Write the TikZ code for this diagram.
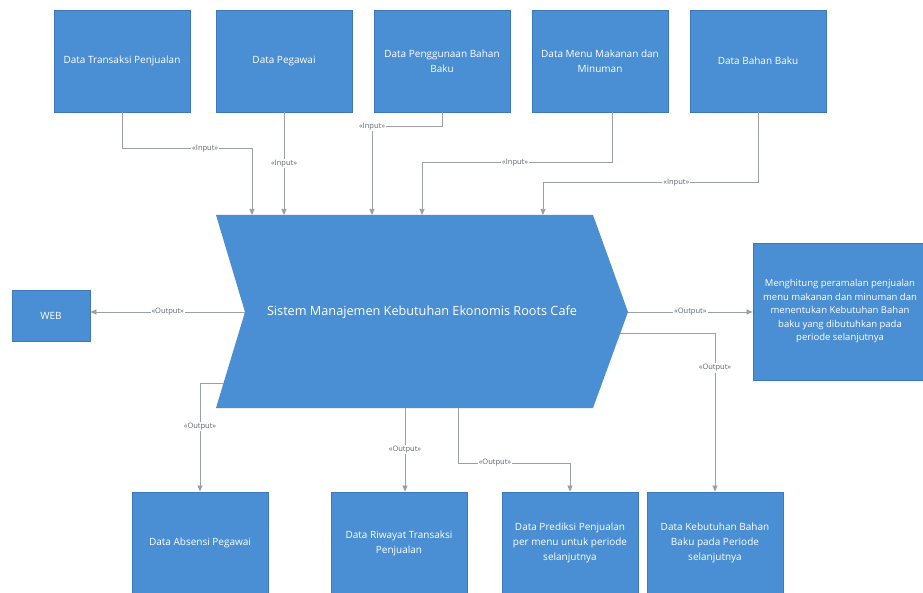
\documentclass[tikz,border=0pt]{standalone}
\usepackage{fontspec}
\setmainfont{Open Sans}
\usetikzlibrary{arrows.meta}
\definecolor{boxfill}{RGB}{74,142,211}
\definecolor{boxline}{RGB}{60,120,188}
\definecolor{wirecol}{RGB}{155,160,168}
\definecolor{wiretext}{RGB}{95,102,112}
\begin{document}
\begin{tikzpicture}[x=1pt,y=-1pt,
  box/.style={draw=boxline, line width=0.8pt, fill=boxfill, text=white, align=center,
    minimum width=136pt, minimum height=102pt, inner sep=4pt,
    font=\fontsize{10}{15}\selectfont},
  wire/.style={draw=wirecol, line width=0.7pt, -{Triangle[length=6pt,width=5pt]}},
  lbl/.style={fill=white, inner sep=1pt, text=wiretext, font=\fontsize{7.5}{8}\selectfont}]
\useasboundingbox (0,0) rectangle (923,593);
\fill[white] (0,0) rectangle (923,593);

% source data stores
\node[box] (b1) at (122,61) {Data Transaksi Penjualan};
\node[box] (b2) at (284,61) {Data Pegawai};
\node[box] (b3) at (442,61) {Data Penggunaan Bahan\\Baku};
\node[box] (b4) at (600,61) {Data Menu Makanan dan\\Minuman};
\node[box] (b5) at (758,61) {Data Bahan Baku};

% central process (chevron)
\coordinate (cTL) at (216,215);
\coordinate (cTR) at (593,215);
\coordinate (tip) at (628,312);
\coordinate (cBR) at (593,408);
\coordinate (cBL) at (216,408);
\coordinate (notch) at (245,312);
\fill[boxfill] (cTL) -- (cTR) -- (tip) -- (cBR) -- (cBL) -- (notch) -- cycle;
\node[text=white, font=\fontsize{12.7}{15}\selectfont] (chev) at (422,312)
  {Sistem Manajemen Kebutuhan Ekonomis Roots Cafe};

% attachment points on the chevron
\coordinate (in1) at (252,215);
\coordinate (in2) at (284,215);
\coordinate (in3) at (372,215);
\coordinate (in4) at (422,215);
\coordinate (in5) at (543,215);
\coordinate (rside) at (620,333);
\coordinate (lside) at (224,383);
\coordinate (bot2) at (405,408);
\coordinate (bot3) at (458,408);

% outputs
\node[box, minimum width=78pt, minimum height=51pt] (web) at (51,315.5) {WEB};
\node[box, minimum width=174pt, minimum height=137pt,
  font=\fontsize{9.5}{13.5}\selectfont] (goal) at (840,311.5)
  {Menghitung peramalan penjualan\\menu makanan dan minuman dan\\menentukan Kebutuhan Bahan\\baku yang dibutuhkan pada\\periode selanjutnya};
\node[box] (bA) at (200,543) {Data Absensi Pegawai};
\node[box] (bB) at (399,543) {Data Riwayat Transaksi\\Penjualan};
\node[box] (bC) at (570,543) {Data Prediksi Penjualan\\per menu untuk periode\\selanjutnya};
\node[box] (bD) at (715,543) {Data Kebutuhan Bahan\\Baku pada Periode\\selanjutnya};

% inputs
\draw[wire] (b1.south) -- ++(0,36) -| node[lbl,pos=0.32]{«Input»} (in1);
\draw[wire] (b2.south) -- node[lbl]{«Input»} (in2);
\draw[wire] (b3.south) -- ++(0,14) -| node[lbl,pos=0.5]{«Input»} (in3);
\draw[wire] ([xshift=12pt]b4.south) -- ++(0,50) -| node[lbl,pos=0.255]{«Input»} (in4);
\draw[wire] (b5.south) -- ++(0,70) -| node[lbl,pos=0.19]{«Input»} (in5);

% outputs
\draw[wire] (notch) -- node[lbl]{«Output»} (notch -| web.east);
\draw[wire] (tip) -- node[lbl]{«Output»} (tip -| goal.west);
\draw[wire] (rside) -| node[lbl,pos=0.61]{«Output»} (bD.north);
\draw[wire] (lside) -| node[lbl,pos=0.7]{«Output»} (bA.north);
\draw[wire] (bot2) -- node[lbl]{«Output»} ([xshift=6pt]bB.north);
\draw[wire] (bot3) -- ++(0,55) -| node[lbl,pos=0.165]{«Output»} (bC.north);
\end{tikzpicture}
\end{document}
